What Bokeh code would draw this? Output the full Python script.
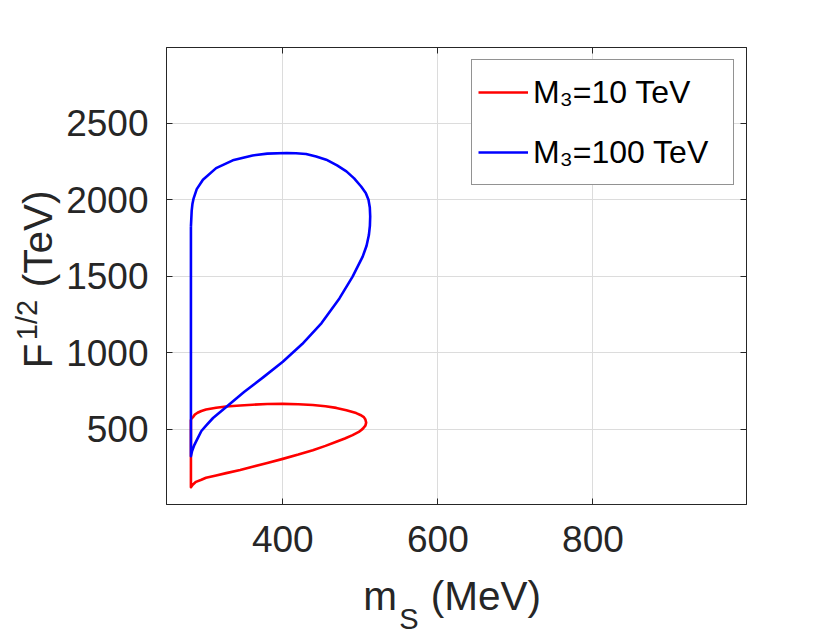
import math
from bokeh.plotting import figure
from bokeh.models import Range1d, FixedTicker, LinearAxis, Label, Legend, LegendItem
from bokeh.embed import file_html
from bokeh.resources import INLINE

# ---- data ----
m_red = [281.5, 281.5, 283.5, 288, 295, 301, 314, 327, 345, 361, 380, 400, 420,
         438.7, 455, 469, 480, 490, 498, 503, 506.5, 507.5, 506.5, 504.5, 500,
         494.6, 482, 469, 455, 438.7, 420, 400, 380, 361, 345, 327, 314, 301,
         295, 290, 286.5, 284.5, 282.5, 281.5]
F_red = [565, 123, 138, 158, 172, 185, 200, 215, 235, 256, 281, 308, 336,
         365, 393, 420, 441, 463, 484, 504, 525, 545, 565, 581, 595,
         607, 626, 641, 652, 660, 665, 667, 666, 662, 657, 650, 642, 630,
         621, 609, 597, 583, 572, 565]

m_blue = [281.5, 281.5, 283, 286, 290, 295, 301, 310, 327, 350, 375, 400, 425,
          450, 473, 490, 503, 508, 511, 512.3, 512.7, 512.2, 510.5, 507, 501, 492,
          482, 470, 456, 443, 430, 417, 405, 380, 361, 335.5, 314, 297, 289, 285,
          283.5, 282.5, 281.5]
F_blue = [1825, 325, 360, 400, 440, 490, 525, 575, 647, 745, 842, 942, 1058,
          1195, 1356, 1498, 1629, 1700, 1770, 1830, 1891, 1950, 2000, 2045, 2087,
          2140, 2186, 2225, 2262, 2283, 2299, 2304, 2306, 2302, 2290, 2258, 2207,
          2131, 2070, 2010, 1975, 1930, 1825]

x_ticks = [400, 600, 800]
y_ticks = [500, 1000, 1500, 2000, 2500]
x_lim = [250, 998]
y_lim = [10, 2995]
legend_labels = ["M\u2083=10 TeV", "M\u2083=100 TeV"]
x_title = ["m", "S", "(MeV)"]
y_title = ["F", "1/2", "(TeV)"]

FONT = "Liberation Sans"
AX = "#262626"
NB = "\u00a0"

p = figure(frame_width=580, frame_height=457,
           min_border_left=166, min_border_right=65,
           min_border_top=47, min_border_bottom=133,
           x_range=Range1d(*x_lim), y_range=Range1d(*y_lim),
           output_backend="svg", toolbar_location=None, tools="")
p.background_fill_color = "white"
p.border_fill_color = "white"
p.outline_line_color = AX
p.outline_line_width = 1

def style_axis(ax, ticks, show_labels):
    ax.ticker = FixedTicker(ticks=ticks)
    ax.axis_line_color = AX
    ax.axis_line_width = 1
    ax.major_tick_line_color = AX
    ax.major_tick_line_width = 1
    ax.major_tick_in = 6
    ax.major_tick_out = 0
    ax.minor_tick_line_color = None
    ax.major_label_text_font = FONT
    if show_labels:
        ax.major_label_text_font_size = "37px"
        ax.major_label_text_color = AX
    else:
        ax.major_label_text_font_size = "1px"
        ax.major_label_text_color = None
        ax.major_label_standoff = 0

style_axis(p.xaxis[0], x_ticks, True)
style_axis(p.yaxis[0], y_ticks, True)
p.xaxis[0].major_label_standoff = 21
p.yaxis[0].major_label_standoff = 18

top_ax = LinearAxis()
style_axis(top_ax, x_ticks, False)
p.add_layout(top_ax, "above")
right_ax = LinearAxis()
style_axis(right_ax, y_ticks, False)
p.add_layout(right_ax, "right")

p.xgrid.ticker = FixedTicker(ticks=x_ticks)
p.ygrid.ticker = FixedTicker(ticks=y_ticks)
for g in (p.xgrid, p.ygrid):
    g.grid_line_color = "#dcdcdc"
    g.grid_line_width = 1

r_red = p.line(m_red, F_red, line_color="#ff0000", line_width=2.6, line_join="round")
r_blue = p.line(m_blue, F_blue, line_color="#0000ff", line_width=2.6, line_join="round")

legend = Legend(items=[LegendItem(label=legend_labels[0], renderers=[r_red]),
                       LegendItem(label=legend_labels[1], renderers=[r_blue])],
                location="top_right", margin=12, padding=6, spacing=8,
                glyph_width=50, glyph_height=52, label_height=52, label_width=194,
                label_standoff=5, label_text_font=FONT, label_text_font_size="32px",
                label_text_color="black", border_line_color=AX, border_line_width=1,
                background_fill_color="white", background_fill_alpha=1.0)
p.add_layout(legend)

def add_label(place, text, xo, yo, size, angle=0.0):
    p.add_layout(Label(x=x_lim[0], y=y_lim[0], x_offset=xo, y_offset=yo, text=text,
                       text_font=FONT, text_font_size=size, text_color=AX,
                       text_align="left", text_baseline="alphabetic", angle=angle),
                 place)

# x axis title: m_S (MeV)
add_label("below", x_title[0] + NB * 3 + x_title[2], 196.7, -91, "40.5px")
add_label("above", x_title[1], 232.7, -114, "29px")
# y axis title: F^{1/2} (TeV)
add_label("left", y_title[0] + NB * 5 + y_title[2], -128.3, 136.3, "40.5px", math.pi / 2)
add_label("right", y_title[1], -139.3, 164.3, "29px", math.pi / 2)

open("out.html", "w").write(file_html(p, INLINE))
